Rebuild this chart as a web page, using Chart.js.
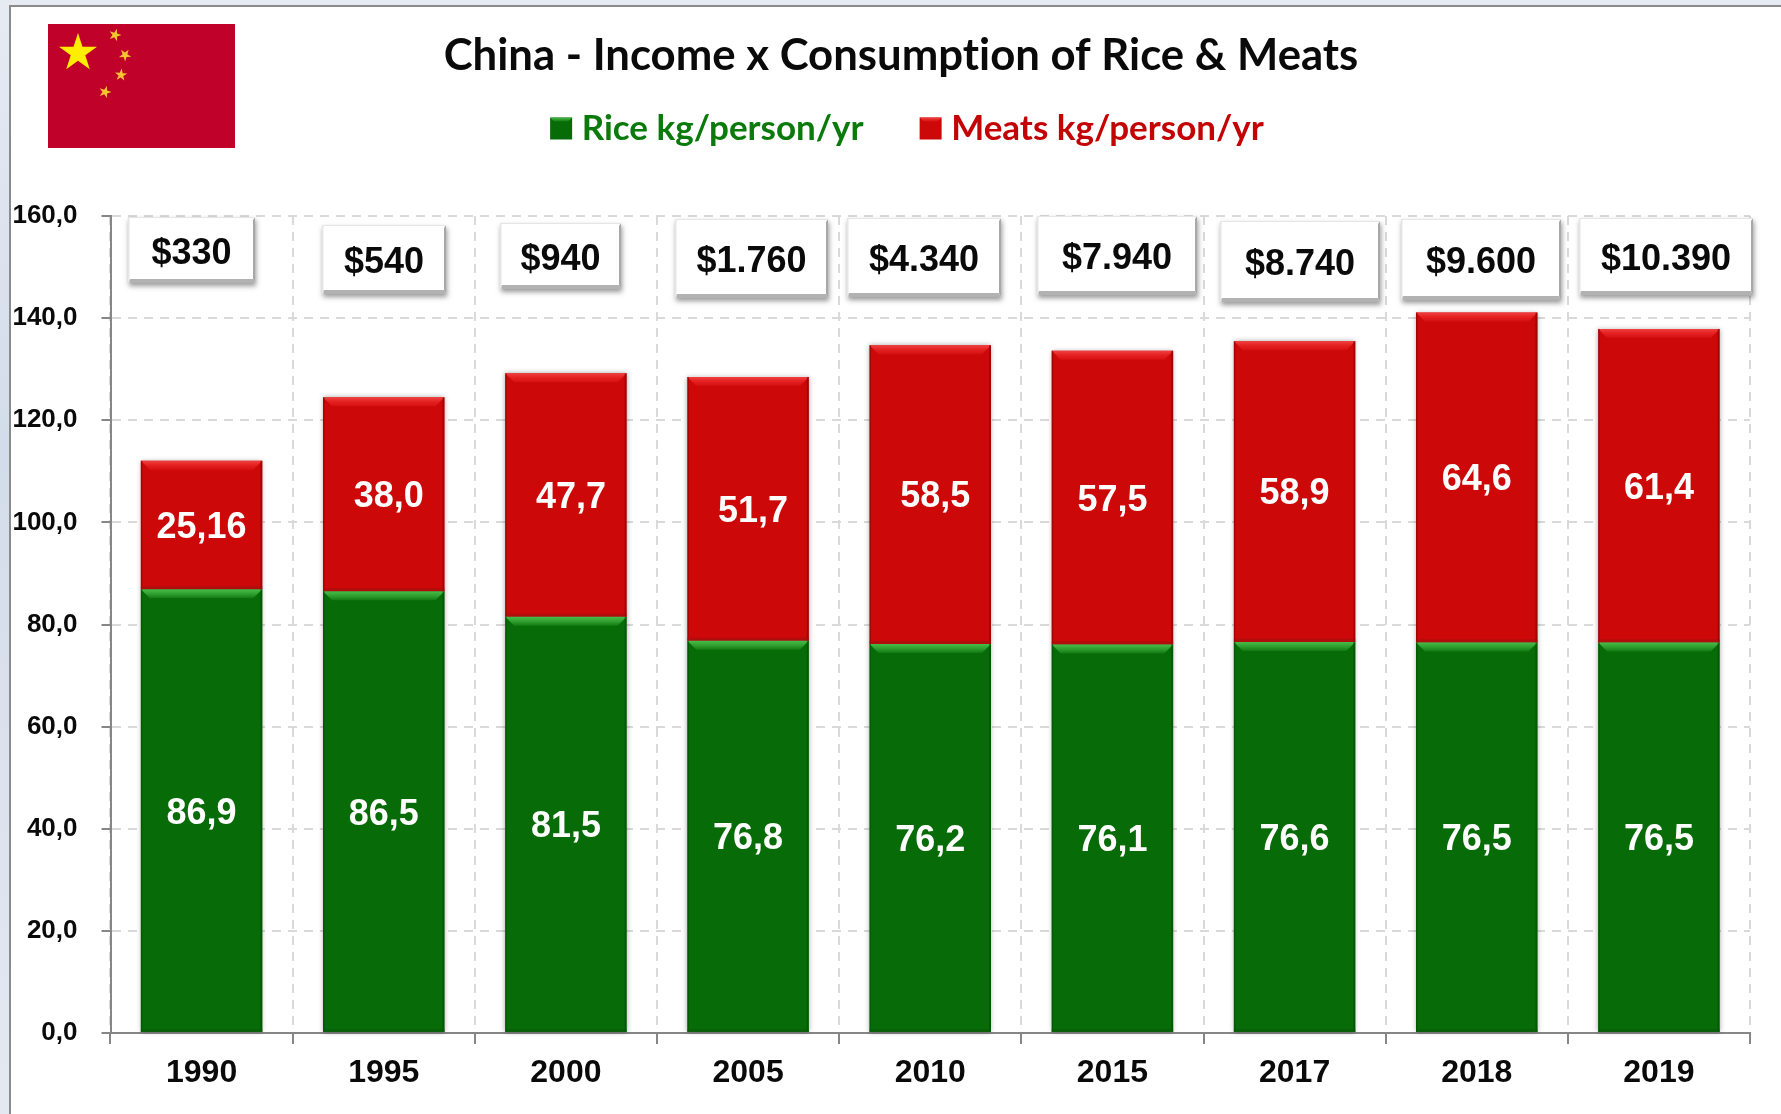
<!DOCTYPE html>
<html>
<head>
<meta charset="utf-8">
<title>China - Income x Consumption of Rice &amp; Meats</title>
<script src="https://cdn.jsdelivr.net/npm/chart.js@4"></script>
<style>
html,body{margin:0;padding:0;width:1781px;height:1114px;overflow:hidden;background:linear-gradient(180deg,#e6ebf3 0%,#d3dcea 40%,#e4e9f1 100%);}
#panel{position:absolute;left:9px;top:5px;width:1772px;height:1109px;background:#fff;border-left:2px solid #8b8b8b;border-top:2px solid #8b8b8b;box-sizing:border-box;}
canvas{position:absolute;left:0;top:0;}
</style>
</head>
<body>
<div id="panel"></div>
<canvas id="c" width="1781" height="1114"></canvas>
<script>
const titleText = 'China - Income x Consumption of Rice & Meats';
const years = ['1990','1995','2000','2005','2010','2015','2017','2018','2019'];
const rice = [86.9,86.5,81.5,76.8,76.2,76.1,76.6,76.5,76.5];
const meats = [25.16,38.0,47.7,51.7,58.5,57.5,58.9,64.6,61.4];
const income = ['$330','$540','$940','$1.760','$4.340','$7.940','$8.740','$9.600','$10.390'];
// hand-placed callout boxes: left, top, right, bottom on the page
const incomeBoxes = [[128,217,255,283],[322,225,446,294],[500,223,621,289],[675,219,828,298],[847,218,1001,297],[1037,216,1197,295],[1220,221,1380,302],[1401,219,1561,300],[1579,218,1753,295]];
// sideways nudge of the meat value labels, as hand-placed in the reference
const meatNudge = [0,5,5,5,5,0,0,0,0];

const ARIAL = '"Liberation Sans", Arial, sans-serif';
const fmt = v => v.toFixed(Math.abs(v*10-Math.round(v*10))<1e-6 ? 1 : 2).replace('.',',');

function star(ctx,cx,cy,r,rot,fill){
  ctx.beginPath();
  for(let i=0;i<10;i++){
    const a=rot-Math.PI/2+i*Math.PI/5, q=i%2?r*0.382:r;
    ctx.lineTo(cx+q*Math.cos(a),cy+q*Math.sin(a));
  }
  ctx.closePath();ctx.fillStyle=fill;ctx.fill();
}

const tone=[['#48bc48','#2fa02f','#137a13','#024a02','#0a5a0a'],['#f04040','#e42020','#d61010','#7d0505','#9c1010']];
const barColors=['#076b07','#cc0808'];

const decor = {
  id:'decor',
  afterLayout(chart){
    chart.titleBlock.left += 26; chart.titleBlock.right += 26; chart.titleBlock.top = 10;
    chart.legend.left += 28; chart.legend.right += 28; chart.legend.top = 63;
  },
  beforeDraw(chart){
    chart.ctx.textRendering='optimizeSpeed';
  },
  beforeDatasetsDraw(chart){
    const ctx=chart.ctx;
    ctx.save();
    ctx.shadowColor='rgba(0,0,0,.35)';ctx.shadowBlur=5;ctx.fillStyle='#fff';
    chart.getDatasetMeta(1).data.forEach((b,i)=>{
      const g=chart.getDatasetMeta(0).data[i];
      ctx.fillRect(b.x-b.width/2,b.y,b.width,g.base-b.y);
    });
    ctx.restore();
  },
  afterDatasetsDraw(chart){
    const ctx=chart.ctx;
    [0,1].forEach(d=>{
      chart.getDatasetMeta(d).data.forEach(b=>{
        const l=b.x-b.width/2,r=b.x+b.width/2,t=b.y,bo=b.base,e=9;
        const gr=ctx.createLinearGradient(0,t,0,t+e);
        gr.addColorStop(0,tone[d][0]);gr.addColorStop(.5,tone[d][1]);gr.addColorStop(1,tone[d][2]);
        ctx.fillStyle=gr;
        ctx.beginPath();ctx.moveTo(l,t);ctx.lineTo(r,t);ctx.lineTo(r-e,t+e);ctx.lineTo(l+e,t+e);ctx.closePath();ctx.fill();
        ctx.fillStyle=tone[d][3];
        ctx.globalAlpha=.55;
        ctx.fillRect(r-2,t,2,bo-t);ctx.fillRect(l,t,1.5,bo-t);
        ctx.globalAlpha=1;
        ctx.fillStyle=tone[d][4];
        ctx.globalAlpha=.6;
        ctx.fillRect(l,bo-3,b.width,3);
        ctx.globalAlpha=1;
      });
    });
    ctx.save();
    ctx.font='bold 36px '+ARIAL;ctx.fillStyle='#fff';ctx.textAlign='center';ctx.textBaseline='middle';
    [0,1].forEach(d=>{
      const vals=chart.data.datasets[d].data;
      chart.getDatasetMeta(d).data.forEach((b,i)=>{
        ctx.fillText(fmt(vals[i]),b.x+(d?meatNudge[i]:0),(b.y+b.base)/2+3);
      });
    });
    ctx.restore();
  },
  afterDraw(chart){
    const ctx=chart.ctx;
    // legend swatches, placed closer to their text than the default gap
    chart.legend.legendHitBoxes.forEach((h,i)=>{
      const x=h.left+8,y=117.5,s=22;
      ctx.fillStyle=barColors[i];ctx.fillRect(x,y,s,s);
      const gr=ctx.createLinearGradient(0,y,0,y+4);
      gr.addColorStop(0,tone[i][0]);gr.addColorStop(1,tone[i][2]);
      ctx.fillStyle=gr;
      ctx.beginPath();ctx.moveTo(x,y);ctx.lineTo(x+s,y);ctx.lineTo(x+s-4,y+4);ctx.lineTo(x+4,y+4);ctx.closePath();ctx.fill();
    });
    // flag
    ctx.save();
    ctx.fillStyle='#c0022a';ctx.fillRect(48,24,187,124);
    star(ctx,78,53,20,0,'#ffee00');
    star(ctx,115,35,6.5,.3,'#f7c531');
    star(ctx,125,55,6.5,.6,'#f7c531');
    star(ctx,121,75,6.5,.1,'#f7c531');
    star(ctx,105,92,6.5,.3,'#f7c531');
    ctx.restore();
    // income callouts
    incomeBoxes.forEach((bx,i)=>{
      const [l,t,r,b]=bx;
      ctx.save();
      ctx.shadowColor='rgba(0,0,0,.4)';ctx.shadowBlur=5;ctx.shadowOffsetY=3;ctx.shadowOffsetX=1;
      ctx.fillStyle='#fff';ctx.fillRect(l,t,r-l,b-t);
      ctx.restore();
      ctx.fillStyle='#b2b2b2';
      ctx.beginPath();ctx.moveTo(l,b);ctx.lineTo(r,b);ctx.lineTo(r-2,b-4);ctx.lineTo(l+2,b-4);ctx.closePath();ctx.fill();
      ctx.fillStyle='#a8a8a8';
      ctx.beginPath();ctx.moveTo(r,t);ctx.lineTo(r,b);ctx.lineTo(r-2,b-4);ctx.lineTo(r-2,t+3);ctx.closePath();ctx.fill();
      ctx.fillStyle='#e6e6e6';
      ctx.fillRect(l,t,1.5,b-t);ctx.fillRect(l,t,r-l,1);
      ctx.font='bold 36px '+ARIAL;ctx.fillStyle='#0a0a0a';ctx.textAlign='center';ctx.textBaseline='middle';
      ctx.fillText(income[i],(l+r)/2,(t+b)/2+4);
    });
  }
};

new Chart(document.getElementById('c').getContext('2d'),{
  type:'bar',
  data:{labels:years,datasets:[
    {label:'Rice kg/person/yr',data:rice,backgroundColor:barColors[0],stack:'s',borderWidth:0},
    {label:'Meats kg/person/yr',data:meats,backgroundColor:barColors[1],stack:'s',borderWidth:0}
  ]},
  options:{
    responsive:false,animation:false,devicePixelRatio:1,
    categoryPercentage:1,barPercentage:.667,
    layout:{padding:{right:31,left:0,top:0,bottom:0}},
    plugins:{
      tooltip:{enabled:false},
      title:{display:true,text:titleText,color:'#0a0a0a',font:{family:'Lato, "Noto Sans", sans-serif',weight:'bold',size:43.7,lineHeight:1.2},padding:{top:20,bottom:50.6}},
      legend:{display:true,position:'top',align:'center',labels:{
        padding:48,boxWidth:22,boxHeight:22,font:{family:'Lato, "Noto Sans", sans-serif',weight:'bold',size:35},
        generateLabels(chart){
          const cols=['#0a7a0a','#c40404'];
          return Chart.defaults.plugins.legend.labels.generateLabels(chart).map((it,i)=>Object.assign(it,{fontColor:cols[i],lineWidth:0,fillStyle:'rgba(0,0,0,0)'}));
        }
      }}
    },
    scales:{
      x:{stacked:true,
        afterFit(s){s.height=81;},
        grid:{color:'#d9d9d9',lineWidth:2,tickLength:11,tickColor:'#868686',tickWidth:2,tickBorderDash:[],offset:true},
        border:{color:'#868686',width:2,dash:[9,7]},
        ticks:{color:'#0a0a0a',font:{family:ARIAL,weight:'bold',size:32},padding:10,maxRotation:0,autoSkip:false}
      },
      y:{stacked:true,min:0,max:160,
        afterFit(s){s.width=110.5;},
        grid:{color:'#d9d9d9',lineWidth:2,tickLength:9,tickColor:'#868686',tickWidth:2,tickBorderDash:[]},
        border:{color:'#868686',width:2,dash:[9,7]},
        ticks:{stepSize:20,color:'#0a0a0a',font:{family:ARIAL,weight:'bold',size:26},padding:24,callback:v=>v.toFixed(1).replace('.',',')}
      }
    }
  },
  plugins:[decor]
});
</script>
</body>
</html>
